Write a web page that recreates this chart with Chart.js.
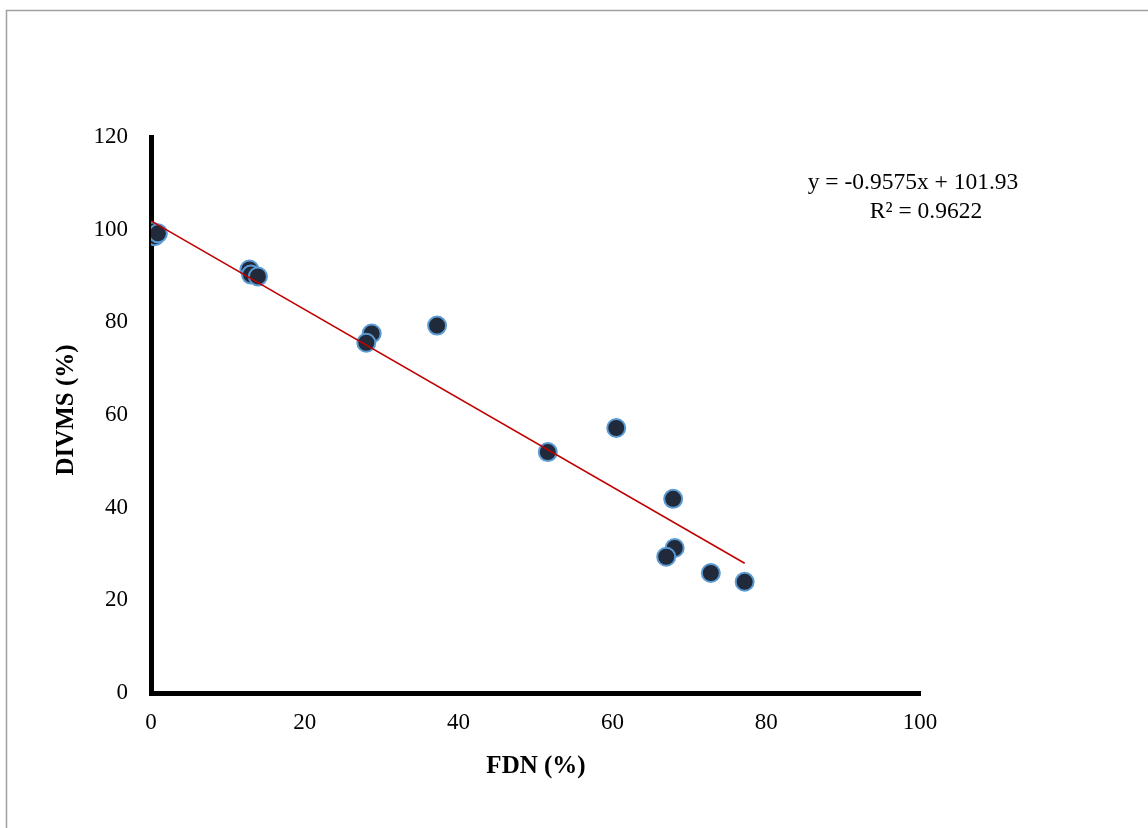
<!DOCTYPE html>
<html>
<head>
<meta charset="utf-8">
<script src="https://cdn.jsdelivr.net/npm/chart.js@4.4.1/dist/chart.umd.min.js"></script>
<style>
  body { margin: 0; background: #fff; }
  #wrap { width: 1148px; height: 828px; }
</style>
</head>
<body>
<div id="wrap"><canvas id="chart" width="1148" height="828"></canvas></div>
<script>
// FDN (%) vs DIVMS (%)
const fdn   = [0.1, 0.5, 0.9, 12.8, 13.0, 13.9, 28.7, 28.0, 37.2, 51.6, 60.5, 67.9, 68.1, 67.0, 72.8, 77.2];
const divms = [99.6, 98.6, 99.2, 91.4, 90.3, 89.9, 77.6, 75.6, 79.3, 52.0, 57.2, 41.9, 31.3, 29.4, 25.9, 24.0];

// linear trend line ends (y = -0.9575x + 101.93)
const trendX = [0, 77.2];
const trendY = [101.9, 28.0];

const xTicks = [0, 20, 40, 60, 80, 100];
const yTicks = [0, 20, 40, 60, 80, 100, 120];
const eqLines = ['y = -0.9575x + 101.93', 'R\u00B2 = 0.9622'];

const serif = '"Liberation Serif", "Times New Roman", serif';

const points = fdn.map((x, i) => ({ x: x, y: divms[i] }));
const trend = trendX.map((x, i) => ({ x: x, y: trendY[i] }));

const decor = {
    id: 'decor',
    beforeDraw(chart) {
        const ctx = chart.ctx;
        ctx.save();
        ctx.fillStyle = '#fff';
        ctx.fillRect(0, 0, chart.width, chart.height);
        ctx.strokeStyle = '#a0a0a0';
        ctx.lineWidth = 1.5;
        ctx.strokeRect(6.5, 10.5, 1300, 1000);
        ctx.restore();
    },
    afterDraw(chart) {
        const ctx = chart.ctx;
        ctx.save();
        ctx.fillStyle = '#000';
        ctx.textAlign = 'center';
        ctx.textBaseline = 'middle';
        // equation
        ctx.font = '23.5px ' + serif;
        ctx.fillText(eqLines[0], 913, 183);
        ctx.fillText(eqLines[1], 926, 212);
        // axis titles
        ctx.font = 'bold 25px ' + serif;
        ctx.fillText('FDN (%)', 536, 767);
        ctx.translate(67, 410);
        ctx.rotate(-Math.PI / 2);
        ctx.fillText('DIVMS (%)', 0, 0);
        ctx.restore();
    }
};

new Chart(document.getElementById('chart').getContext('2d'), {
    type: 'scatter',
    data: {
        datasets: [
            {
                type: 'line',
                label: 'Trend',
                data: trend,
                borderColor: '#c00000',
                borderWidth: 1.5,
                pointRadius: 0,
                fill: false,
                order: 0
            },
            {
                label: 'DIVMS',
                data: points,
                backgroundColor: '#202a3a',
                borderColor: '#5b9bd5',
                borderWidth: 2,
                pointRadius: 9,
                order: 1
            }
        ]
    },
    options: {
        responsive: false,
        animation: false,
        layout: { padding: { left: 0, right: 228, top: 137, bottom: 0 } },
        plugins: {
            legend: { display: false },
            tooltip: { enabled: false }
        },
        scales: {
            x: {
                type: 'linear',
                min: 0,
                max: 100,
                afterFit: s => { s.height = 135; },
                afterBuildTicks: s => { s.ticks = xTicks.map(v => ({ value: v })); },
                grid: { display: false, drawTicks: false },
                border: { display: true, color: '#000', width: 5 },
                ticks: { padding: 16, color: '#000', font: { family: serif, size: 23 } }
            },
            y: {
                type: 'linear',
                min: 0,
                max: 120,
                afterFit: s => { s.width = 151; },
                afterBuildTicks: s => { s.ticks = yTicks.map(v => ({ value: v })); },
                grid: { display: false, drawTicks: false },
                border: { display: true, color: '#000', width: 5 },
                ticks: { padding: 23, color: '#000', font: { family: serif, size: 23 } }
            }
        }
    },
    plugins: [decor]
});
</script>
</body>
</html>
